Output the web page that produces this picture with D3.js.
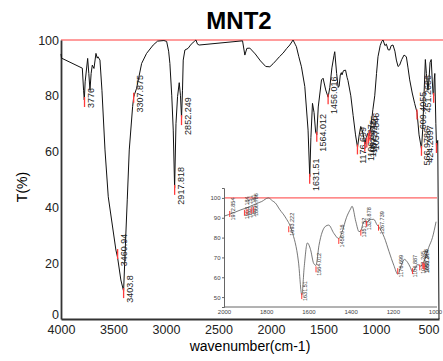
<!DOCTYPE html>
<html>
<head>
<meta charset="utf-8">
<script src="https://cdn.jsdelivr.net/npm/d3@7"></script>
<style>
  body { margin: 0; background: #fff; }
  svg { display: block; font-family: "Liberation Sans", Arial, sans-serif; }
</style>
</head>
<body>
<div id="container"></div>
<script>
/* DATA */
const wavenumber = [4000, 3995, 3797, 3785, 3778, 3770, 3746, 3735, 3724, 3713, 3702, 3686, 3667, 3655, 3648, 3629,
  3610, 3581, 3550, 3477, 3461, 3430, 3404, 3385, 3369, 3350, 3318, 3308, 3300, 3280, 3232, 3185, 3122, 3080,
  3020, 2994, 2975, 2963, 2945, 2931, 2918, 2905, 2890, 2874, 2862, 2852, 2843, 2836, 2820, 2790, 2760, 2730,
  2715, 2700, 2684, 2271, 2249, 2230, 2202, 2150, 2100, 2050, 2011, 1980, 1948, 1920, 1885, 1850, 1821, 1790,
  1770, 1758, 1735, 1710, 1678, 1647, 1631, 1620, 1605, 1590, 1575, 1564, 1550, 1519, 1504, 1479, 1456, 1440,
  1420, 1400, 1393, 1375, 1360, 1351, 1340, 1330, 1324, 1310, 1290, 1275, 1267, 1240, 1218, 1195, 1176, 1160,
  1145, 1130, 1117, 1106, 1092, 1080, 1072, 1060, 1045, 1030, 1012, 995, 981, 960, 945, 933, 915, 901, 885,
  870, 855, 838, 820, 806, 790, 775, 755, 733, 711, 695, 679, 655, 632, 609, 590, 567, 555, 545, 537, 530,
  520, 505, 495, 485, 474, 465, 457, 451, 445, 440, 430, 424, 412, 400];
const transmittance = [95, 93.5, 89.9, 82, 78.5, 85, 93.4, 88, 82, 88, 91, 89.8, 95.2, 93.5, 94, 92.8,
  82, 60.6, 43.8, 24.7, 22, 14, 10, 28, 42.7, 60.6, 76.1, 79.5, 80.5, 82.7, 91.6, 95.2, 98.2, 99.6,
  99.8, 99.5, 96, 91.6, 80, 67.7, 47, 70, 79.7, 84.7, 80, 72, 82, 92.8, 96.4, 97, 98.5, 99.5,
  100, 98.5, 98.2, 99.7, 94.6, 97, 97.1, 95, 92.5, 90.5, 90.4, 91.5, 92.8, 94, 95.3, 97, 98.2, 100,
  98.5, 97.6, 94, 90.4, 83.3, 67.7, 51, 65, 77.3, 74, 67, 66, 76, 85.7, 86.3, 82.1, 79.5, 83,
  90, 94.5, 95.8, 88, 83, 83.5, 87.5, 88.3, 87.5, 89, 89.2, 86.5, 85.5, 80, 73, 66, 61.5, 66,
  69, 67.5, 65, 62.5, 65, 66.5, 65.5, 66.5, 70, 75, 80, 88, 94, 98, 99.5, 100, 98, 98.5, 96.5,
  96.4, 98, 98.2, 96, 92.8, 90.5, 91, 93, 94.6, 94, 90, 85.7, 81, 77.3, 74, 66, 61, 68, 78, 86, 93,
  88, 82, 86, 92, 93, 86, 81, 80, 86, 88, 70, 62, 64, 0];

// peak labels of the main plot
const peakWn = [3776, 3460.94, 3403.8, 3307.875, 2917.818, 2852.249, 1631.51, 1564.012, 1456.016,
  1176.699, 1106.887, 1087.445, 1072.245, 1057.846, 609.4055, 566.9786, 451.2686, 424.2697];
const peakT = [78.5, 24, 10, 80, 47, 72, 51, 66, 79.5, 61.5, 62.5, 64, 65.5, 66.5, 74, 61, 80, 62];

// peak labels of the inset
const insetWn = [1972.854, 1903.184, 1891.151, 1871.181, 1860.786, 1693.222, 1631.51, 1564.012, 1456.016,
  1351.52, 1324.878, 1267.739, 1176.699, 1106.887, 1072.245, 1057.846, 1053.314, 1051.247];
const insetT = [92.4, 93, 93.5, 94, 94.6, 84.7, 51, 64.5, 78.8, 83, 87.5, 85.5, 63.6, 63.6, 65.5, 66.5, 66, 65.8];

const xTicks = [4000, 3500, 3000, 2500, 2000, 1500, 1000, 500];
const yTicks = [0, 20, 40, 60, 80, 100];
const insetXTicks = [2000, 1800, 1600, 1400, 1200, 1000];
const insetYTicks = [50, 60, 70, 80, 90, 100];

/* CONSTANTS */
const width = 443, height = 361;
const red = "#ff3b3b";

const spectrum = wavenumber.map((w, i) => ({ w: w, t: transmittance[i] }));

const svg = d3.select("#container").append("svg")
  .attr("width", width)
  .attr("height", height);

// + SCALES
const xScale = d3.scaleLinear().domain([4000, 400]).range([61, 439]);
const yScale = d3.scaleLinear().domain([0, 100]).range([319, 40]);

const xInset = d3.scaleLinear().domain([2000, 1000]).range([224, 435]);
const yInset = d3.scaleLinear().domain([45, 105]).range([307, 188]);

// title
svg.append("text")
  .attr("x", 239).attr("y", 29)
  .attr("text-anchor", "middle")
  .attr("font-size", 24).attr("font-weight", "bold")
  .text("MNT2");

// red 100% line
svg.append("line")
  .attr("x1", 61).attr("x2", width)
  .attr("y1", yScale(100)).attr("y2", yScale(100))
  .attr("stroke", red).attr("stroke-width", 1);

// + AXES
const xAxis = svg.append("g")
  .attr("transform", `translate(0,${yScale(0)})`)
  .call(d3.axisBottom(xScale).tickValues(xTicks).tickFormat(d3.format("d")).tickSize(0).tickPadding(6));
const yAxis = svg.append("g")
  .attr("transform", `translate(${xScale(4000)},0)`)
  .call(d3.axisLeft(yScale).tickValues(yTicks).tickFormat(d3.format("d")).tickSize(0).tickPadding(2));

[xAxis, yAxis].forEach(ax => {
  ax.select(".domain").attr("stroke", "#333").attr("stroke-width", 1.8);
  ax.selectAll("text").attr("font-size", 12.5).attr("fill", "#222")
    .attr("font-family", "Liberation Sans, Arial, sans-serif");
});
// the "0" sits a little higher, just touching the 4000 below it
yAxis.selectAll(".tick").filter(d => d === 0).select("text").attr("dy", "-0.05em");

svg.append("text")
  .attr("x", 250).attr("y", 351)
  .attr("text-anchor", "middle")
  .attr("font-size", 14)
  .text("wavenumber(cm-1)");

svg.append("text")
  .attr("transform", "translate(27,187) rotate(-90)")
  .attr("text-anchor", "middle")
  .attr("font-size", 14)
  .text("T(%)");

// spectrum
const line = d3.line().x(d => xScale(d.w)).y(d => yScale(d.t));
svg.append("path")
  .datum(spectrum)
  .attr("d", line)
  .attr("fill", "none")
  .attr("stroke", "#111")
  .attr("stroke-width", 1);

// main peak markers + labels
const peaks = peakWn.map((w, i) => ({ w: w, t: peakT[i] }));
const pk = svg.append("g").selectAll("g")
  .data(peaks)
  .join("g");
pk.append("line")
  .attr("x1", d => xScale(d.w)).attr("x2", d => xScale(d.w))
  .attr("y1", d => yScale(d.t) - 3).attr("y2", d => yScale(d.t) + 7)
  .attr("stroke", red).attr("stroke-width", 1.3);
pk.append("text")
  .attr("transform", d => {
    const px = xScale(d.w);
    const tx = px + 9 > 437 ? px - 3 : px + 9;
    return `translate(${tx},${yScale(d.t) - 2}) rotate(-90)`;
  })
  .attr("text-anchor", "middle")
  .attr("font-size", 9)
  .attr("fill", "#222")
  .text(d => d.w);

/* INSET */
const inset = svg.append("g");

inset.append("line")
  .attr("x1", 224).attr("x2", 437)
  .attr("y1", yInset(100)).attr("y2", yInset(100))
  .attr("stroke", red).attr("stroke-width", 1);

const ixAxis = inset.append("g")
  .attr("transform", `translate(0,307)`)
  .call(d3.axisBottom(xInset).tickValues(insetXTicks).tickFormat(d3.format("d")).tickSize(0).tickPadding(3));
const iyAxis = inset.append("g")
  .attr("transform", `translate(224,0)`)
  .call(d3.axisLeft(yInset).tickValues(insetYTicks).tickFormat(d3.format("d")).tickSize(2).tickPadding(1.5));

ixAxis.select(".domain").attr("d", "M224,0H437");
[ixAxis, iyAxis].forEach(ax => {
  ax.select(".domain").attr("stroke", "#666").attr("stroke-width", 1);
  ax.selectAll(".tick line").attr("stroke", "#666");
  ax.selectAll("text").attr("font-size", 6).attr("fill", "#444")
    .attr("font-family", "Liberation Sans, Arial, sans-serif");
});

inset.append("clipPath").attr("id", "insetClip")
  .append("rect").attr("x", 224).attr("y", 186).attr("width", 213).attr("height", 121);

const insetLine = d3.line().x(d => xInset(d.w)).y(d => yInset(d.t)).curve(d3.curveMonotoneX);
inset.append("path")
  .datum(spectrum.filter(d => d.w <= 2011 && d.w >= 995).reverse())
  .attr("clip-path", "url(#insetClip)")
  .attr("d", insetLine)
  .attr("fill", "none")
  .attr("stroke", "#555")
  .attr("stroke-width", 0.8);

const ipeaks = insetWn.map((w, i) => ({ w: w, t: insetT[i] }));
const ipk = inset.append("g").selectAll("g")
  .data(ipeaks)
  .join("g");
ipk.append("line")
  .attr("x1", d => xInset(d.w)).attr("x2", d => xInset(d.w))
  .attr("y1", d => yInset(d.t) - 2).attr("y2", d => yInset(d.t) + 4)
  .attr("stroke", red).attr("stroke-width", 1);
ipk.append("text")
  .attr("transform", d => `translate(${xInset(d.w) + 5},${yInset(d.t) - 4}) rotate(-90)`)
  .attr("text-anchor", "middle")
  .attr("font-size", 5.5)
  .attr("fill", "#333")
  .text(d => d.w);
</script>
</body>
</html>
